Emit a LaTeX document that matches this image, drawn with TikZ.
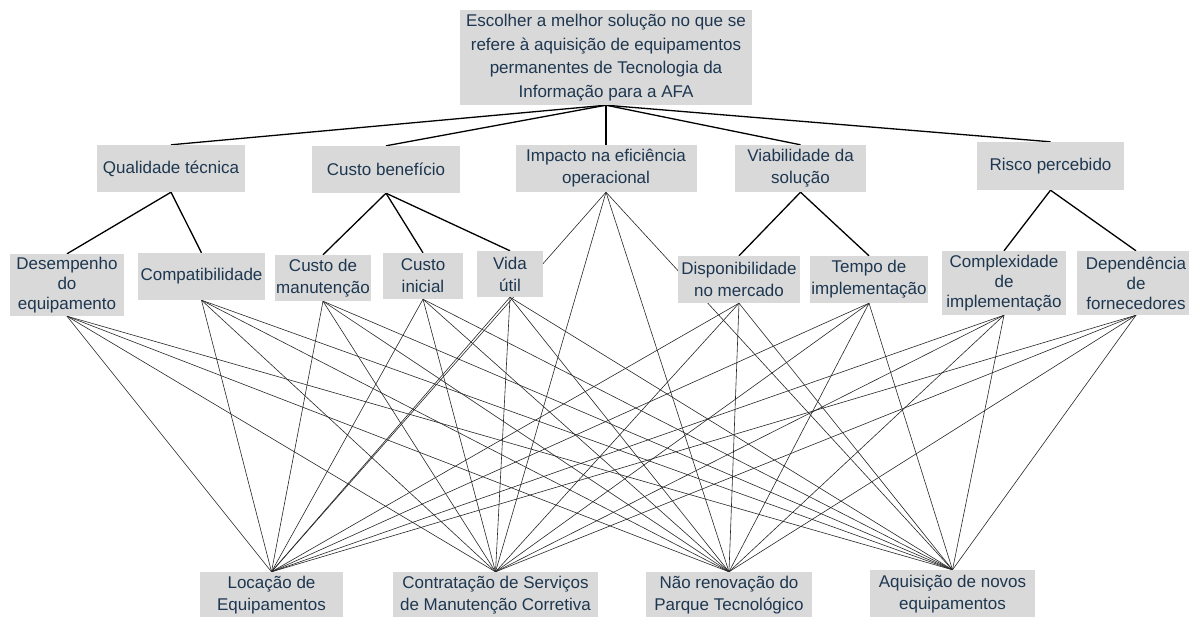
\documentclass[tikz,border=0pt]{standalone}
\usepackage{fontspec}
\setmainfont{Liberation Sans}
\usetikzlibrary{backgrounds}
\definecolor{boxgray}{RGB}{217,217,217}
\definecolor{txtc}{RGB}{30,55,80}
\begin{document}
\begin{tikzpicture}[x=1pt,y=-1pt,
  box/.style={fill=boxgray,draw=none,text=txtc,align=center,inner sep=0pt,
    font=\fontsize{17}{22}\selectfont},
  tight/.style={font=\fontsize{17}{20}\selectfont},
  major/.style={line width=1.3pt,black},
  minor/.style={line width=0.6pt,black!85}]
\useasboundingbox (0,0) rectangle (1189,616);
% goal
\node[box,minimum width=292pt,minimum height=95pt,font=\fontsize{17}{23.5}\selectfont] (goal) at (606,57.5)
  {Escolher a melhor solução no que se\\refere à aquisição de equipamentos\\permanentes de Tecnologia da\\Informação para a AFA};
% criteria
\node[box,minimum width=148pt,minimum height=47pt] (qual) at (171,168.5) {Qualidade técnica};
\node[box,minimum width=148pt,minimum height=47pt] (cb) at (386,169.5) {Custo benefício};
\node[box,minimum width=181pt,minimum height=47pt] (imp) at (606,168.5) {Impacto na eficiência\\operacional};
\node[box,minimum width=131pt,minimum height=47pt] (viab) at (800.5,168.5) {Viabilidade da\\solução};
\node[box,minimum width=147pt,minimum height=48pt] (risco) at (1050.5,166) {Risco percebido};
% subcriteria
\node[box,tight,minimum width=114pt,minimum height=62pt] (desemp) at (67,285) {Desempenho\\do\\equipamento};
\node[box,minimum width=127pt,minimum height=47pt] (compat) at (201.5,276.5) {Compatibilidade};
\node[box,minimum width=96pt,minimum height=46pt] (manut) at (323,278) {Custo de\\manutenção};
\node[box,minimum width=80pt,minimum height=46pt] (inic) at (423,276) {Custo\\inicial};
\node[box,minimum width=66pt,minimum height=46pt] (vida) at (510,274) {Vida\\útil};
\node[box,minimum width=122pt,minimum height=47pt] (disp) at (739,279.5) {Disponibilidade\\no mercado};
\node[box,minimum width=118pt,minimum height=47pt] (tempo) at (869,279.5) {Tempo de\\implementação};
\node[box,tight,minimum width=124pt,minimum height=64pt] (compl) at (1004,283) {Complexidade\\de\\implementação};
\node[box,tight,minimum width=118pt,minimum height=64pt] (depend) at (1136,283) {Dependência\\de\\fornecedores};
% alternatives
\node[box,minimum width=143pt,minimum height=46pt] (loc) at (271.5,595) {Locação de\\Equipamentos};
\node[box,minimum width=205pt,minimum height=46pt] (contr) at (495.5,595) {Contratação de Serviços\\de Manutenção Corretiva};
\node[box,minimum width=166pt,minimum height=46pt] (naoren) at (729,595) {Não renovação do\\Parque Tecnológico};
\node[box,minimum width=165pt,minimum height=48pt] (aquis) at (952.5,594) {Aquisição de novos\\equipamentos};
\begin{pgfonlayer}{background}
  \foreach \c in {qual,cb,imp,viab,risco}
    \draw[major] (goal.south) -- (\c.north);
  \draw[major] (qual.south) -- (desemp.north);
  \draw[major] (qual.south) -- (compat.north);
  \draw[major] (cb.south) -- (manut.north);
  \draw[major] (cb.south) -- (inic.north);
  \draw[major] (cb.south) -- (vida.north);
  \draw[major] (viab.south) -- (disp.north);
  \draw[major] (viab.south) -- (tempo.north);
  \draw[major] (risco.south) -- (compl.north);
  \draw[major] (risco.south) -- (depend.north);
  \foreach \s in {desemp,compat,manut,inic,vida,imp,disp,tempo,compl,depend}
    \foreach \a in {loc,contr,naoren,aquis}
      \draw[minor] (\s.south) -- (\a.north);
\end{pgfonlayer}
\end{tikzpicture}
\end{document}
